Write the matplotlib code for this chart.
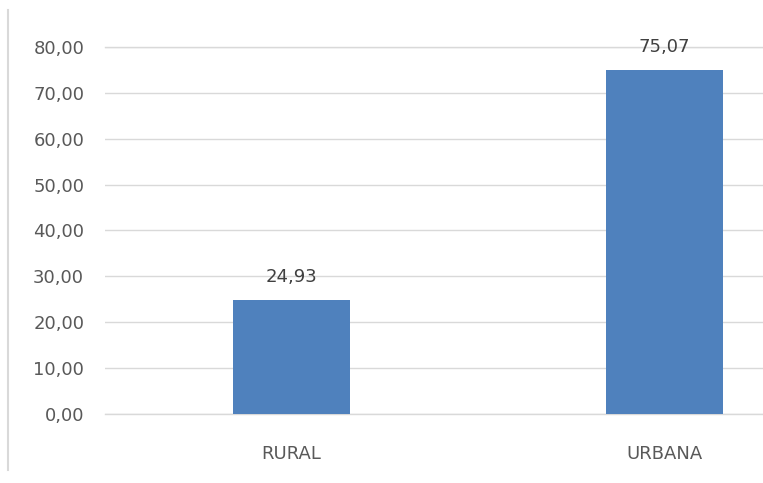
import matplotlib
matplotlib.use("Agg")
import matplotlib.pyplot as plt
from matplotlib.lines import Line2D

categories = ["RURAL", "URBANA"]
values = [24.93, 75.07]
yticks = [0, 10, 20, 30, 40, 50, 60, 70, 80]

GREY = "#595959"
GRID = "#d9d9d9"
BLUE = "#4f81bd"

fig = plt.figure(figsize=(7.63, 4.83), dpi=100)
ax = fig.add_axes([105 / 763, 69 / 483, 658 / 763, 367 / 483])

x = list(range(len(categories)))
ax.bar(x, values, width=0.314, color=BLUE, zorder=2)

for xi, v in zip(x, values):
    ax.annotate(f"{v:.2f}".replace(".", ","), (xi, v), xytext=(0, 10),
                textcoords="offset points", ha="center", va="bottom",
                fontsize=13, color="#404040")

ax.set_xlim(-0.5, 1.264)
ax.set_ylim(0, 80)
ax.set_yticks(yticks)
ax.set_yticklabels([f"{t:.2f}".replace(".", ",") for t in yticks],
                   fontsize=13, color=GREY)
ax.set_xticks(x)
ax.set_xticklabels(categories, fontsize=13, color=GREY)
ax.tick_params(axis="y", length=0, pad=15)
ax.tick_params(axis="x", length=0, pad=22)
ax.grid(axis="y", color=GRID, linewidth=1.0, zorder=0)
ax.axhline(0, color=GRID, linewidth=1.0, zorder=1, clip_on=False)
ax.axhline(80, color=GRID, linewidth=1.0, zorder=1, clip_on=False)
for s in ax.spines.values():
    s.set_visible(False)

# chart-area border remnant on the left
fig.add_artist(Line2D([8 / 763, 8 / 763], [13 / 483, 1 - 10 / 483],
                      color=GRID, linewidth=1.5))

fig.savefig("out.png", dpi=100)
